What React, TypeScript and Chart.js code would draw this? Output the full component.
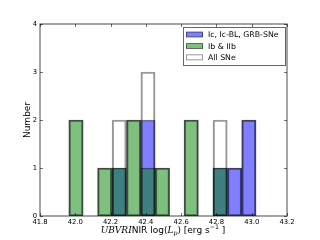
import React, { useEffect, useRef } from 'react';
import { Chart, registerables } from 'chart.js';

Chart.register(...registerables);

// Histogram bin centres (log Lp, erg/s)
const binCenters = [42.004, 42.086, 42.167, 42.249, 42.331, 42.412, 42.494, 42.576, 42.657, 42.739, 42.821, 42.903, 42.984];
// Counts per bin
const icCounts = [0, 0, 0, 1, 0, 2, 0, 0, 0, 0, 1, 1, 2];
const ibCounts = [2, 0, 1, 1, 2, 1, 1, 0, 2, 0, 1, 0, 0];
const allCounts = [2, 0, 1, 2, 2, 3, 1, 0, 2, 0, 2, 1, 2];
const seriesLabels = ['Ic, Ic-BL, GRB-SNe', 'Ib & IIb', 'All SNe'];
const xTicks = [41.8, 42.0, 42.2, 42.4, 42.6, 42.8, 43.0, 43.2];
const yTicks = [0, 1, 2, 3, 4];
const yTitle = 'Number';

const SANS = '"DejaVu Sans", sans-serif';
const SERIF = '"DejaVu Serif", serif';

const toPoints = (counts: number[]) =>
  binCenters.map((x, i) => ({ x, y: counts[i] > 0 ? counts[i] : null }));

const decorPlugin = {
  id: 'decor',
  afterDraw(chart: any) {
    const { ctx, chartArea } = chart;
    const { left, right, top, bottom } = chartArea;
    const xs = chart.scales.x;
    const ys = chart.scales.y;
    ctx.save();
    // frame
    ctx.strokeStyle = 'rgba(0,0,0,0.55)';
    ctx.lineWidth = 1.3;
    ctx.strokeRect(left, top, right - left, bottom - top);
    // inward ticks
    ctx.lineWidth = 1;
    ctx.strokeStyle = 'rgba(0,0,0,0.55)';
    ctx.beginPath();
    xTicks.forEach((v) => {
      const px = Math.round(xs.getPixelForValue(v)) + 0.5;
      ctx.moveTo(px, bottom); ctx.lineTo(px, bottom - 3);
      ctx.moveTo(px, top); ctx.lineTo(px, top + 3);
    });
    yTicks.forEach((v) => {
      const py = Math.round(ys.getPixelForValue(v)) + 0.5;
      ctx.moveTo(left, py); ctx.lineTo(left + 3, py);
      ctx.moveTo(right, py); ctx.lineTo(right - 3, py);
    });
    ctx.stroke();

    // legend
    const bx = 183, by = 27, bw = 102, bh = 38;
    ctx.fillStyle = '#fff';
    ctx.fillRect(bx, by, bw, bh);
    ctx.strokeStyle = 'rgba(0,0,0,0.6)';
    ctx.lineWidth = 1;
    ctx.strokeRect(bx + 0.5, by + 0.5, bw, bh);
    const rowY = [34.5, 46, 57.3];
    ctx.font = `7.8px ${SANS}`;
    ctx.textBaseline = 'middle';
    ctx.textAlign = 'left';
    chart.data.datasets.forEach((ds: any, i: number) => {
      const sy = rowY[i];
      ctx.fillStyle = ds.backgroundColor;
      ctx.fillRect(186, sy - 2.5, 17, 5);
      ctx.strokeStyle = ds.borderColor;
      ctx.lineWidth = 1;
      ctx.strokeRect(186.5, sy - 2.5, 16, 5);
      ctx.fillStyle = '#000';
      ctx.fillText(ds.label, 208, sy + 0.5);
    });

    // y title
    ctx.save();
    ctx.translate(29.5, (top + bottom) / 2);
    ctx.rotate(-Math.PI / 2);
    ctx.font = `9px ${SANS}`;
    ctx.textAlign = 'center';
    ctx.textBaseline = 'alphabetic';
    ctx.fillStyle = '#000';
    ctx.fillText(yTitle, 0, 0);
    ctx.restore();

    // x title with mathtext-like pieces
    const pieces = [
      { t: 'UBVRI', f: `italic 9px ${SERIF}`, dy: 0 },
      { t: 'NIR log(', f: `9px ${SANS}`, dy: 0 },
      { t: 'L', f: `italic 9px ${SERIF}`, dy: 0 },
      { t: 'p', f: `italic 6.3px ${SERIF}`, dy: 2 },
      { t: ') [erg s', f: `9px ${SANS}`, dy: 0 },
      { t: '\u22121', f: `6.3px ${SANS}`, dy: -3.5 },
      { t: ' ]', f: `9px ${SANS}`, dy: 0 },
    ];
    let total = 0;
    pieces.forEach((p) => { ctx.font = p.f; total += ctx.measureText(p.t).width; });
    let cx = 163 - total / 2;
    const baseY = 232.5;
    ctx.textAlign = 'left';
    ctx.textBaseline = 'alphabetic';
    ctx.fillStyle = '#000';
    pieces.forEach((p) => {
      ctx.font = p.f;
      ctx.fillText(p.t, cx, baseY + p.dy);
      cx += ctx.measureText(p.t).width;
    });
    ctx.restore();
  },
};

export default function App() {
  const ref = useRef<HTMLCanvasElement>(null);
  useEffect(() => {
    const common = {
      grouped: false,
      barPercentage: 1,
      categoryPercentage: 1,
      borderSkipped: false as const,
    };
    const chart = new Chart(ref.current!, {
      type: 'bar',
      data: {
        datasets: [
          { ...common, label: seriesLabels[0], data: toPoints(icCounts) as any, backgroundColor: 'rgba(0,0,255,0.5)', borderColor: 'rgba(0,0,0,0.5)', borderWidth: 1, order: 2 },
          { ...common, label: seriesLabels[1], data: toPoints(ibCounts) as any, backgroundColor: 'rgba(0,128,0,0.5)', borderColor: 'rgba(0,0,0,0.5)', borderWidth: 1, order: 1 },
          { ...common, label: seriesLabels[2], data: toPoints(allCounts) as any, backgroundColor: 'rgba(255,255,255,0)', borderColor: 'rgba(0,0,0,0.4)', borderWidth: 1.5, order: 0 },
        ],
      },
      options: {
        responsive: false,
        animation: false,
        devicePixelRatio: 1,
        layout: { padding: { top: 24, right: 33, left: 0, bottom: 0 } },
        plugins: { legend: { display: false }, tooltip: { enabled: false } },
        scales: {
          x: {
            type: 'linear',
            min: 41.8,
            max: 43.2,
            offset: false,
            afterBuildTicks: (s: any) => { s.ticks = xTicks.map((v) => ({ value: v })); },
            afterFit: (s: any) => { s.height = 24; },
            grid: { display: false, drawTicks: false, offset: false },
            border: { display: false },
            ticks: {
              font: { family: SANS, size: 6.8 },
              color: '#000',
              padding: 2,
              maxRotation: 0,
              autoSkip: false,
              callback: (v: any) => Number(v).toFixed(1),
            },
          },
          y: {
            type: 'linear',
            min: 0,
            max: 4,
            afterBuildTicks: (s: any) => { s.ticks = yTicks.map((v) => ({ value: v })); },
            afterFit: (s: any) => { s.width = 40; },
            grid: { display: false, drawTicks: false },
            border: { display: false },
            ticks: {
              font: { family: SANS, size: 6.8 },
              color: '#000',
              padding: 3,
              callback: (v: any) => String(v),
            },
          },
        },
      },
      plugins: [decorPlugin],
    });
    return () => chart.destroy();
  }, []);
  return (
    <div style={{ position: 'absolute', left: 0, top: 0, width: 320, height: 240, background: '#fff' }}>
      <canvas ref={ref} width={320} height={240} style={{ display: 'block' }} />
    </div>
  );
}
